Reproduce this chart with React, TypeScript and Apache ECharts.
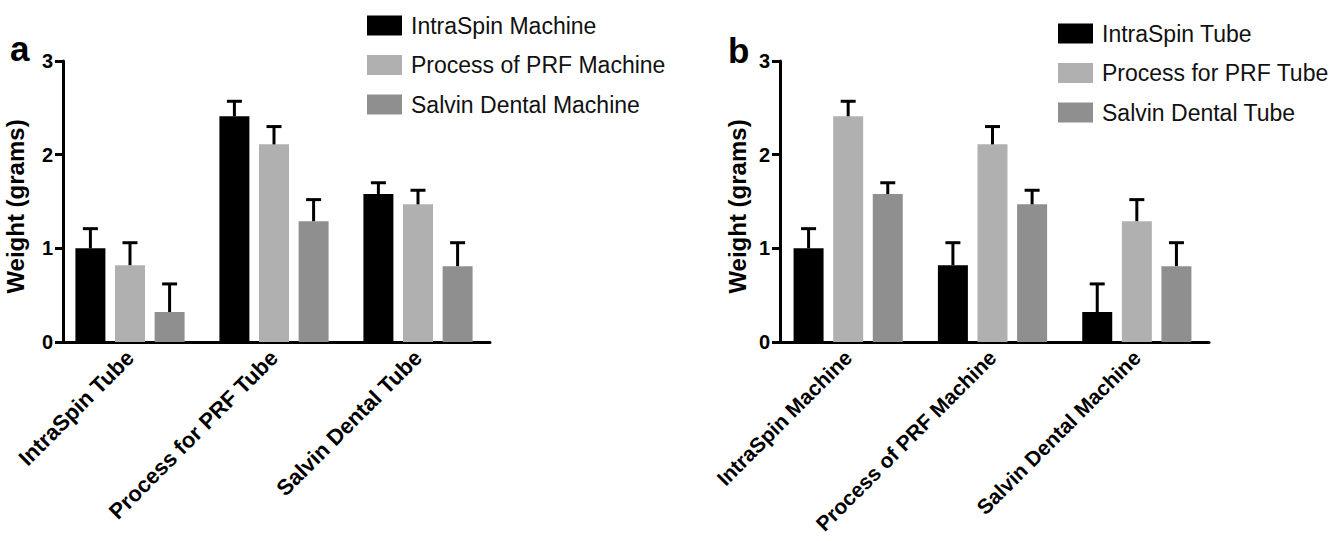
import React, { useEffect, useRef } from "react";
import * as echarts from "echarts";

// ---- Data ----
const tubeCategories = ["IntraSpin Tube", "Process for PRF Tube", "Salvin Dental Tube"];
const machineCategories = ["IntraSpin Machine", "Process of PRF Machine", "Salvin Dental Machine"];

// Panel a: one series per machine, values over tubes
const intraSpinMachineMean = [1.0, 2.41, 1.58];
const prfMachineMean = [0.82, 2.11, 1.47];
const salvinMachineMean = [0.32, 1.29, 0.81];

const intraSpinMachineSD = [0.21, 0.16, 0.12];
const prfMachineSD = [0.24, 0.19, 0.15];
const salvinMachineSD = [0.3, 0.23, 0.25];

const yTicks = [0, 1, 2, 3];

// ---- Styles ----
const FONT = '"Liberation Sans", Arial, Helvetica, sans-serif';
const COLORS = ["#000000", "#b0b0b0", "#8f8f8f"];
const BAR_W = 30;
const BAR_GAP_PX = 9.6;
const PITCH = BAR_W + BAR_GAP_PX;

const meansA = [intraSpinMachineMean, prfMachineMean, salvinMachineMean];
const sdsA = [intraSpinMachineSD, prfMachineSD, salvinMachineSD];
// Panel b is the transposed table: series per tube, values over machines
const meansB = tubeCategories.map((_, t) => machineCategories.map((_, m) => meansA[m][t]));
const sdsB = tubeCategories.map((_, t) => machineCategories.map((_, m) => sdsA[m][t]));

function errorSeries(axisIndex: number, means: number[][], sds: number[][]) {
  const data: number[][] = [];
  means.forEach((arr, s) =>
    arr.forEach((v, c) => data.push([c, v, v + sds[s][c], s]))
  );
  return {
    type: "custom",
    xAxisIndex: axisIndex,
    yAxisIndex: axisIndex,
    z: 5,
    silent: true,
    encode: { x: 0, y: [1, 2] },
    data,
    renderItem: (_p: any, api: any) => {
      const c = api.value(0);
      const base = api.coord([c, api.value(1)]);
      const top = api.coord([c, api.value(2)]);
      const x = base[0] + (api.value(3) - 1) * PITCH;
      const st = { stroke: "#000", lineWidth: 3 };
      return {
        type: "group",
        children: [
          { type: "line", shape: { x1: x, y1: base[1], x2: x, y2: top[1] }, style: st },
          { type: "line", shape: { x1: x - 7.5, y1: top[1], x2: x + 7.5, y2: top[1] }, style: st },
        ],
      };
    },
  };
}

function xAxisCfg(gridIndex: number, cats: string[], fontSize: number) {
  return {
    type: "category",
    gridIndex,
    data: cats,
    axisLine: { lineStyle: { color: "#000", width: 3 } },
    axisTick: { alignWithLabel: true, length: 8, lineStyle: { color: "#000", width: 3 } },
    axisLabel: {
      rotate: 45,
      margin: 12,
      fontSize,
      fontWeight: "bold",
      color: "#000",
      fontFamily: FONT,
      interval: 0,
    },
    splitLine: { show: false },
  };
}

function yAxisCfg(gridIndex: number, offset: number, nameGap: number) {
  return {
    type: "value",
    gridIndex,
    min: yTicks[0],
    max: yTicks[yTicks.length - 1],
    interval: 1,
    offset,
    name: "Weight (grams)",
    nameLocation: "middle",
    nameGap,
    nameTextStyle: {
      fontSize: 24,
      fontWeight: "bold",
      color: "#000",
      fontFamily: FONT,
      padding: [0, 10, 0, 0],
    },
    axisLine: { show: true, lineStyle: { color: "#000", width: 3 } },
    axisTick: { show: true, length: 8, lineStyle: { color: "#000", width: 3 } },
    axisLabel: { fontSize: 20, fontWeight: "bold", color: "#000", margin: 10, fontFamily: FONT },
    splitLine: { show: false },
  };
}

function barSeries(axisIndex: number, names: string[], means: number[][]) {
  return names.map((name, i) => ({
    type: "bar",
    name,
    xAxisIndex: axisIndex,
    yAxisIndex: axisIndex,
    barWidth: BAR_W,
    barGap: `${(BAR_GAP_PX / BAR_W) * 100}%`,
    itemStyle: { color: COLORS[i] },
    data: means[i],
  }));
}

function legendCfg(names: string[], left: number, top: number) {
  return {
    data: names,
    orient: "vertical",
    left,
    top,
    icon: "rect",
    itemWidth: 35,
    itemHeight: 20,
    itemGap: 16.5,
    selectedMode: false,
    textStyle: {
      fontSize: 23,
      lineHeight: 22,
      color: "#111",
      fontFamily: FONT,
      padding: [0, 0, 0, 4],
    },
  };
}

export default function App() {
  const ref = useRef<HTMLDivElement>(null);
  useEffect(() => {
    if (!ref.current) return;
    const chart = echarts.init(ref.current, undefined, { renderer: "svg" });
    chart.setOption({
      animation: false,
      backgroundColor: "#ffffff",
      title: [
        { text: "a", left: 5, top: 26, textStyle: { fontSize: 35, fontWeight: "bold", color: "#000", fontFamily: FONT } },
        { text: "b", left: 723, top: 28, textStyle: { fontSize: 35, fontWeight: "bold", color: "#000", fontFamily: FONT } },
      ],
      legend: [
        legendCfg(machineCategories, 362, 9),
        legendCfg(tubeCategories, 1053, 17),
      ],
      grid: [
        { left: 58, top: 61, width: 432, height: 281, outerBoundsMode: "none" },
        { left: 776, top: 61, width: 433, height: 281, outerBoundsMode: "none" },
      ],
      xAxis: [xAxisCfg(0, tubeCategories, 22), xAxisCfg(1, machineCategories, 21)],
      yAxis: [yAxisCfg(0, -5, 36), yAxisCfg(1, -4, 31)],
      series: [
        ...barSeries(0, machineCategories, meansA),
        errorSeries(0, meansA, sdsA),
        ...barSeries(1, tubeCategories, meansB),
        errorSeries(1, meansB, sdsB),
      ],
    });
    return () => chart.dispose();
  }, []);
  return (
    <div
      ref={ref}
      style={{ position: "fixed", left: 0, top: 0, width: 1338, height: 541, background: "#fff" }}
    />
  );
}
